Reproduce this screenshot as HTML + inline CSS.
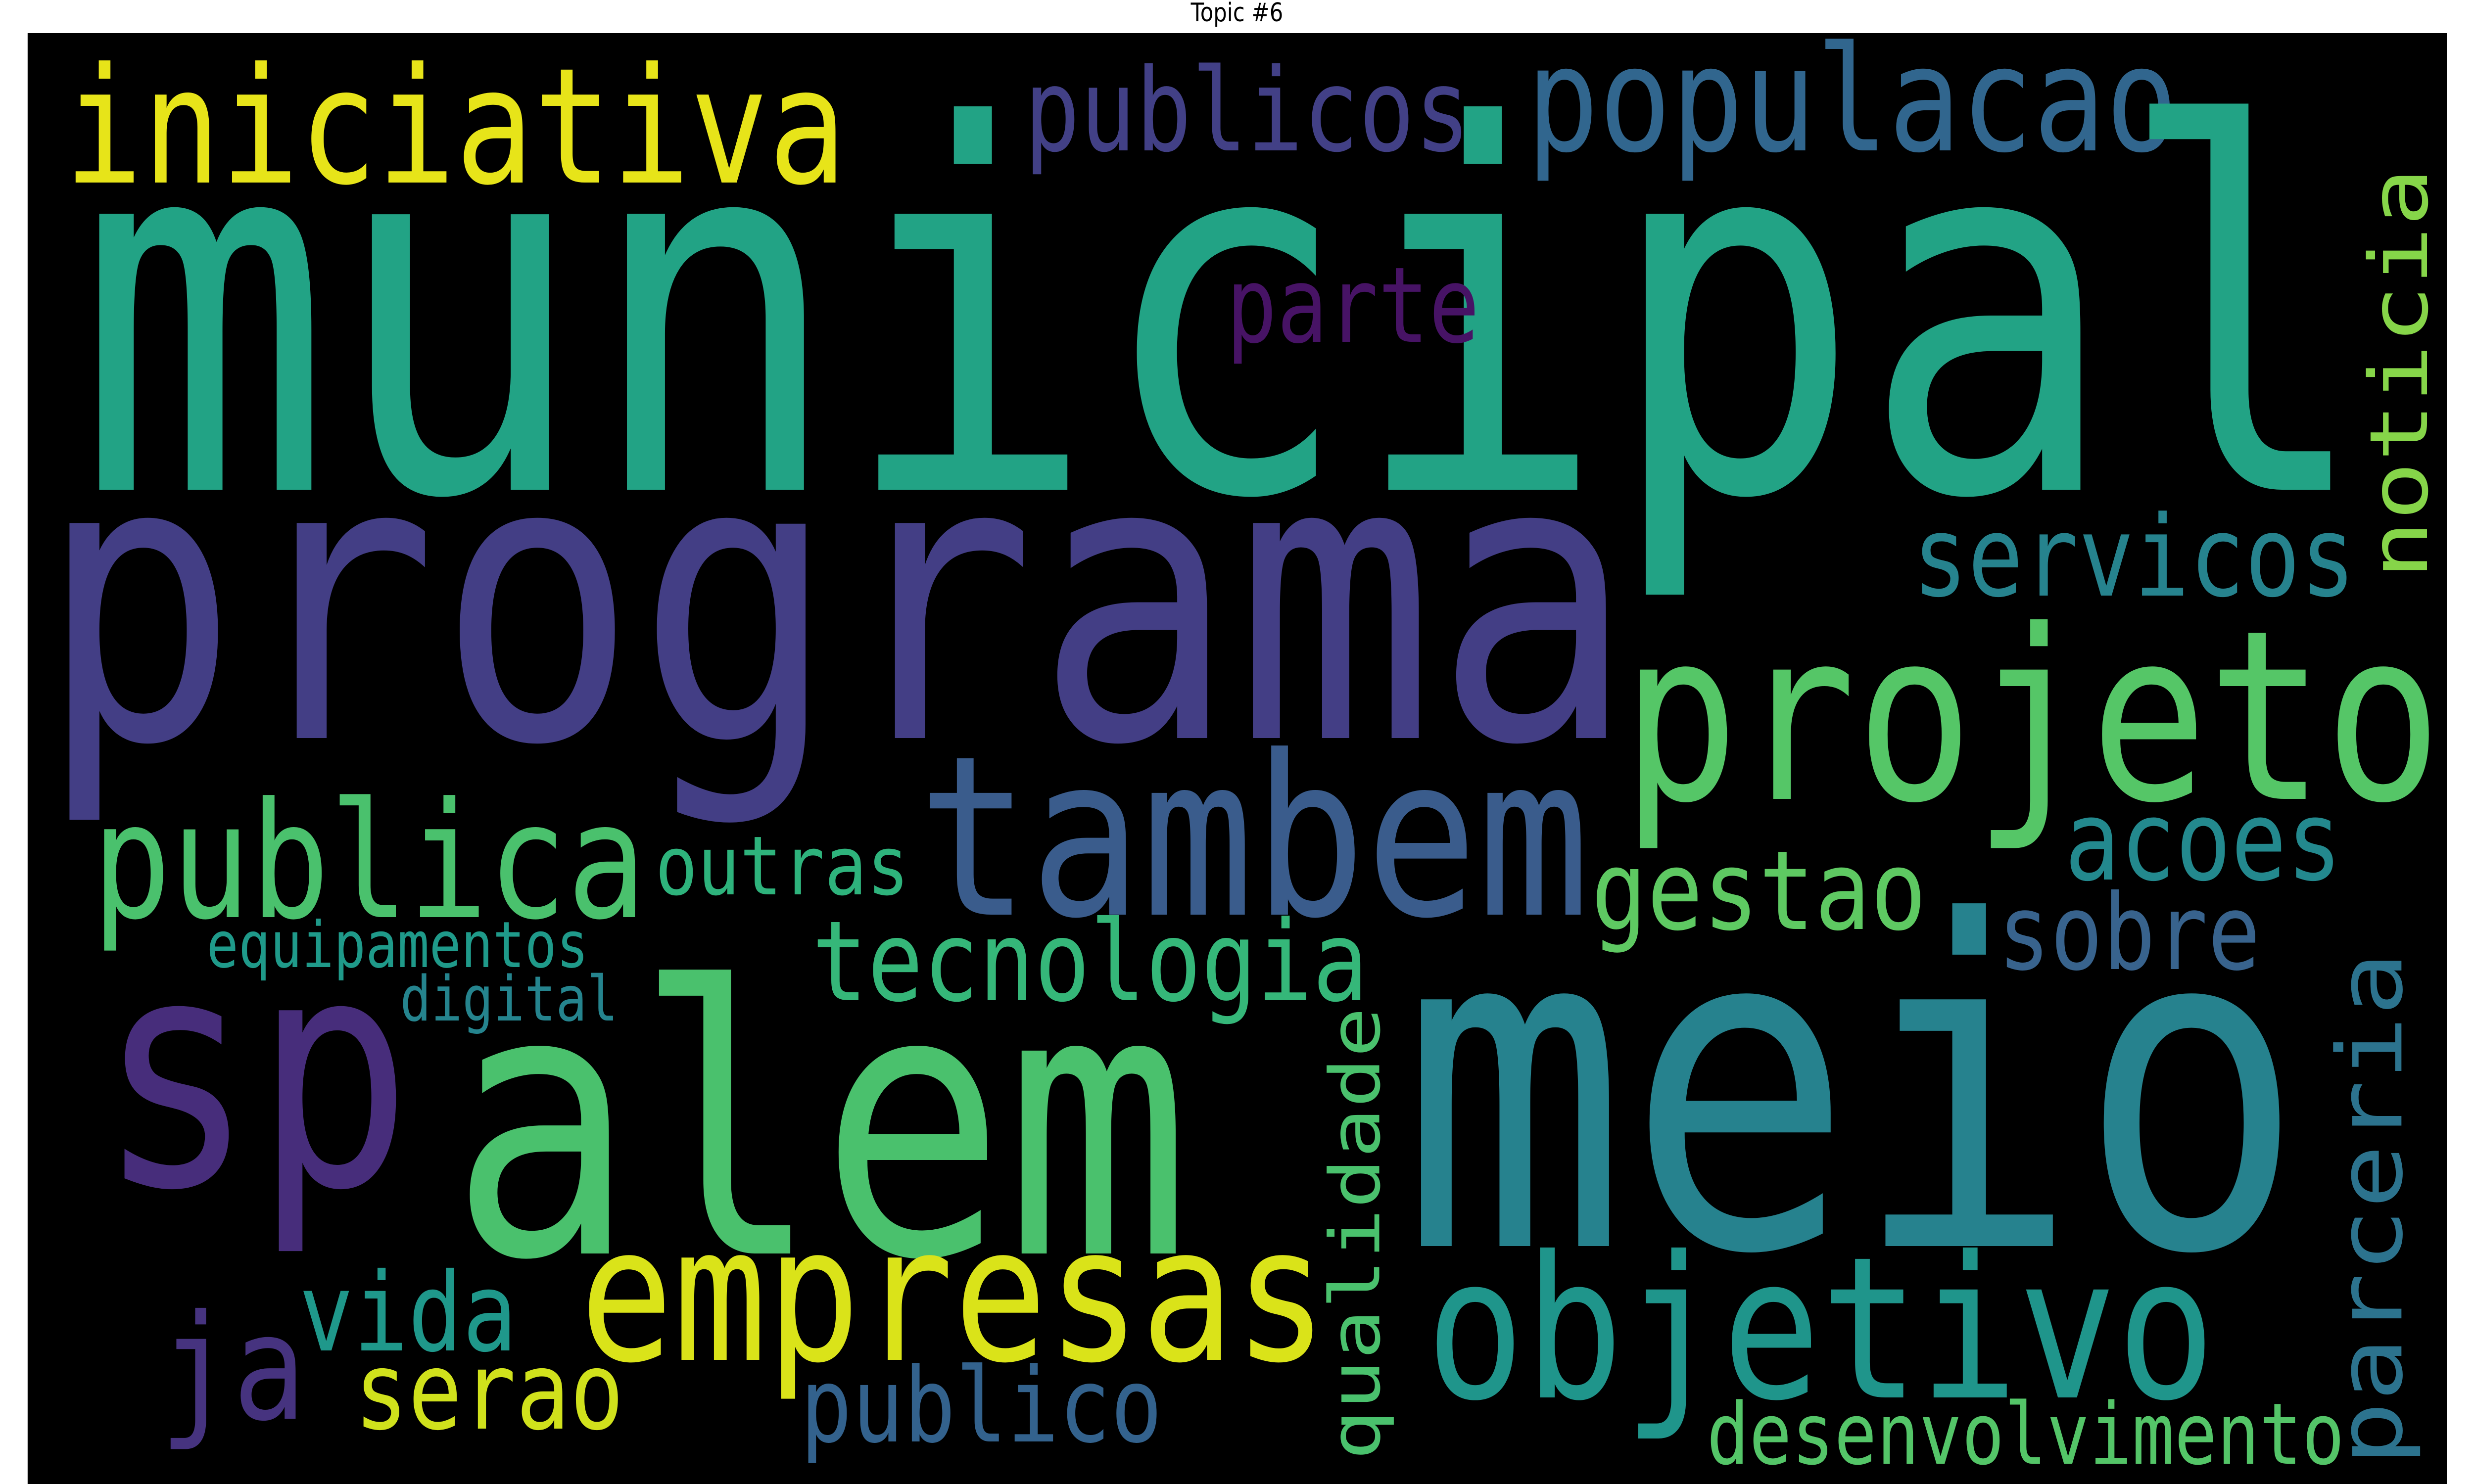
<!DOCTYPE html>
<html>
<head>
<meta charset="utf-8">
<meta name="viewport" content="width=6000, height=3000, initial-scale=1">
<style>
  html, body { margin:0; padding:0; background:#ffffff; overflow:hidden; width:100%; height:100%; }
  svg { display:block; position:fixed; left:0; top:0; width:100vw; height:100vh; }
  .w { font-family: "DejaVu Sans Mono", "Liberation Mono", monospace; }
</style>
</head>
<body>
<svg viewBox="0 0 6000 3000" preserveAspectRatio="none" xmlns="http://www.w3.org/2000/svg">
  <rect x="0" y="0" width="6000" height="3000" fill="#ffffff"/>
  <text x="3000" y="43" text-anchor="middle" font-family="'DejaVu Sans', 'Liberation Sans', sans-serif" font-size="52" fill="#000000">Topic #6</text>
  <rect x="67" y="67" width="5867" height="2933" fill="#000000"/>
  <g class="w">
    <text x="156" y="369" font-size="325" textLength="1897" lengthAdjust="spacingAndGlyphs" fill="#e7e419">iniciativa</text>
    <text x="2484" y="304" font-size="232" textLength="1082" lengthAdjust="spacingAndGlyphs" fill="#424086">publicos</text>
    <text x="3702" y="304" font-size="295" textLength="1580" lengthAdjust="spacingAndGlyphs" fill="#31668e">populacao</text>
    <text x="186" y="990" font-size="1020" textLength="5565" lengthAdjust="spacingAndGlyphs" fill="#22a385">municipal</text>
    <text x="2974" y="691" font-size="212" textLength="614" lengthAdjust="spacingAndGlyphs" fill="#471365">parte</text>
    <text x="4638" y="1204" font-size="226" textLength="1075" lengthAdjust="spacingAndGlyphs" fill="#26838e">servicos</text>
    <text x="94" y="1492" font-size="795" textLength="3869" lengthAdjust="spacingAndGlyphs" fill="#433e85">programa</text>
    <text x="3933" y="1615" font-size="478" textLength="1989" lengthAdjust="spacingAndGlyphs" fill="#55c667">projeto</text>
    <text x="2226" y="1849" font-size="450" textLength="1629" lengthAdjust="spacingAndGlyphs" fill="#3a5c8c">tambem</text>
    <text x="223" y="1854" font-size="325" textLength="1344" lengthAdjust="spacingAndGlyphs" fill="#4ac16d">publica</text>
    <text x="1589" y="1808" font-size="165" textLength="616" lengthAdjust="spacingAndGlyphs" fill="#2eb37c">outras</text>
    <text x="3859" y="1878" font-size="222" textLength="813" lengthAdjust="spacingAndGlyphs" fill="#5ec962">gestao</text>
    <text x="5007" y="1778" font-size="224" textLength="673" lengthAdjust="spacingAndGlyphs" fill="#23898e">acoes</text>
    <text x="4845" y="1959" font-size="212" textLength="637" lengthAdjust="spacingAndGlyphs" fill="#38638d">sobre</text>
    <text x="1969" y="2022" font-size="225" textLength="1349" lengthAdjust="spacingAndGlyphs" fill="#35b779">tecnologia</text>
    <text x="501" y="1955" font-size="129" textLength="926" lengthAdjust="spacingAndGlyphs" fill="#1f9a8a">equipamentos</text>
    <text x="970" y="2063" font-size="126" textLength="529" lengthAdjust="spacingAndGlyphs" fill="#25848e">digital</text>
    <text x="236" y="2395" font-size="645" textLength="763" lengthAdjust="spacingAndGlyphs" fill="#472d7b">sp</text>
    <text x="1091" y="2534" font-size="750" textLength="1796" lengthAdjust="spacingAndGlyphs" fill="#4ac16d">alem</text>
    <text x="3398" y="2519" font-size="912" textLength="2191" lengthAdjust="spacingAndGlyphs" fill="#26828e">meio</text>
    <text x="1406" y="2749" font-size="378" textLength="1814" lengthAdjust="spacingAndGlyphs" fill="#dae319">empresas</text>
    <text x="3458" y="2825" font-size="399" textLength="1915" lengthAdjust="spacingAndGlyphs" fill="#1f958b">objetivo</text>
    <text x="387" y="2868" font-size="295" textLength="355" lengthAdjust="spacingAndGlyphs" fill="#46337f">ja</text>
    <text x="725" y="2730" font-size="220" textLength="529" lengthAdjust="spacingAndGlyphs" fill="#1f988b">vida</text>
    <text x="859" y="2888" font-size="218" textLength="654" lengthAdjust="spacingAndGlyphs" fill="#d0e11c">serao</text>
    <text x="1941" y="2914" font-size="209" textLength="878" lengthAdjust="spacingAndGlyphs" fill="#33628d">publico</text>
    <text x="4139" y="2959" font-size="172" textLength="1547" lengthAdjust="spacingAndGlyphs" fill="#54c568">desenvolvimento</text>
    <text transform="translate(3345,2952) rotate(-90)" x="0" y="0" font-size="168" textLength="916" lengthAdjust="spacingAndGlyphs" fill="#4ac16d">qualidade</text>
    <text transform="translate(5824,2963) rotate(-90)" x="0" y="0" font-size="218" textLength="1039" lengthAdjust="spacingAndGlyphs" fill="#2c738e">parceria</text>
    <text transform="translate(5886,1171) rotate(-90)" x="0" y="0" font-size="195" textLength="832" lengthAdjust="spacingAndGlyphs" fill="#86d549">noticia</text>
  </g>
</svg>
</body>
</html>
